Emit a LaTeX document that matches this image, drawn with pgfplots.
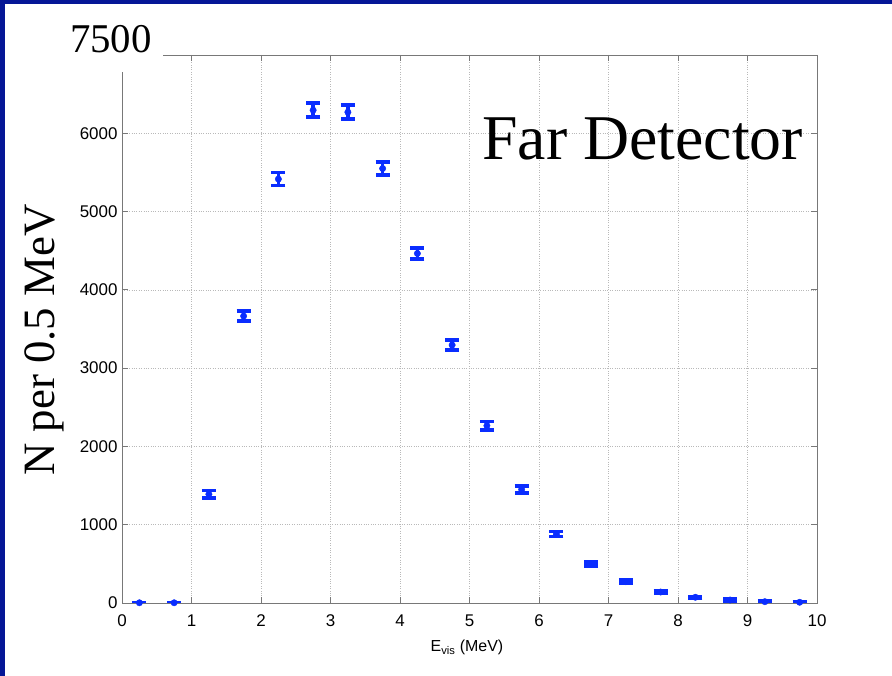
\documentclass[border=0pt]{standalone}
\usepackage{pgfplots}
\pgfplotsset{compat=1.18}
\usepackage{fontspec}
\newfontfamily\sansf{Liberation Sans}
\newfontfamily\seriff{Liberation Serif}
\definecolor{frameblue}{RGB}{5,22,150}
\definecolor{ptblue}{RGB}{10,45,255}
\definecolor{axgray}{RGB}{120,120,120}
\begin{document}
\begin{tikzpicture}[x=1bp,y=1bp]
\fill[frameblue] (0,0) rectangle (892,676);
\fill[white] (5,0) rectangle (892,672);
\begin{axis}[
  at={(122bp,73bp)}, anchor=south west,
  scale only axis, width=695bp, height=548bp,
  xmin=0, xmax=10, ymin=0, ymax=7000,
  xtick={0,1,...,10}, ytick={0,1000,...,6000},
  grid=major,
  major grid style={gray!55, dotted, line width=0.7pt},
  axis line style={axgray, line width=0.9pt},
  tick style={axgray, line width=0.9pt},
  major tick length=6bp,
  tick align=inside,
  /pgf/number format/assume math mode=true,
  /pgf/number format/set thousands separator={},
  ticklabel style={font=\sansf\fontsize{17}{17}\selectfont},
  xticklabel style={yshift=-8bp},
  yticklabel style={xshift=-1bp},
]
\addplot[only marks, color=ptblue, mark=*, mark size=3.2bp,
  error bars/.cd, y dir=both, y explicit,
  error bar style={line width=3.4bp, ptblue},
  error mark options={rotate=90, mark size=7bp, line width=3.6bp, ptblue}]
  table[x=x, y=y, y error=e] {
x y e
0.25 3 5
0.75 3 5
1.25 1390 45
1.75 3665 65
2.25 5415 82
2.75 6295 88
3.25 6270 88
3.75 5550 80
4.25 4465 72
4.75 3295 62
5.25 2265 52
5.75 1450 42
6.25 880 33
6.75 500 26
7.25 272 20
7.75 140 15
8.25 73 12
8.75 38 10
9.25 17 8
9.75 9 7
};
\end{axis}
\fill[white] (60,604) rectangle (163,658);
\node[anchor=base east, inner sep=0pt, font=\seriff\fontsize{41}{41}\selectfont] at (152,623) {7500};
\node[anchor=base east, inner sep=0pt, font=\seriff\fontsize{64}{64}\selectfont] at (803,516) {Far Detector};
\node[rotate=90, inner sep=0pt, font=\seriff\fontsize{45}{45}\selectfont] at (44,336) {N per 0.5 MeV};
\node[anchor=base, inner sep=0pt, font=\sansf\fontsize{16}{16}\selectfont] at (467,24) {E\textsubscript{vis} (MeV)};
\pgfresetboundingbox
\path (0,0) rectangle (892,676);
\end{tikzpicture}
\end{document}
